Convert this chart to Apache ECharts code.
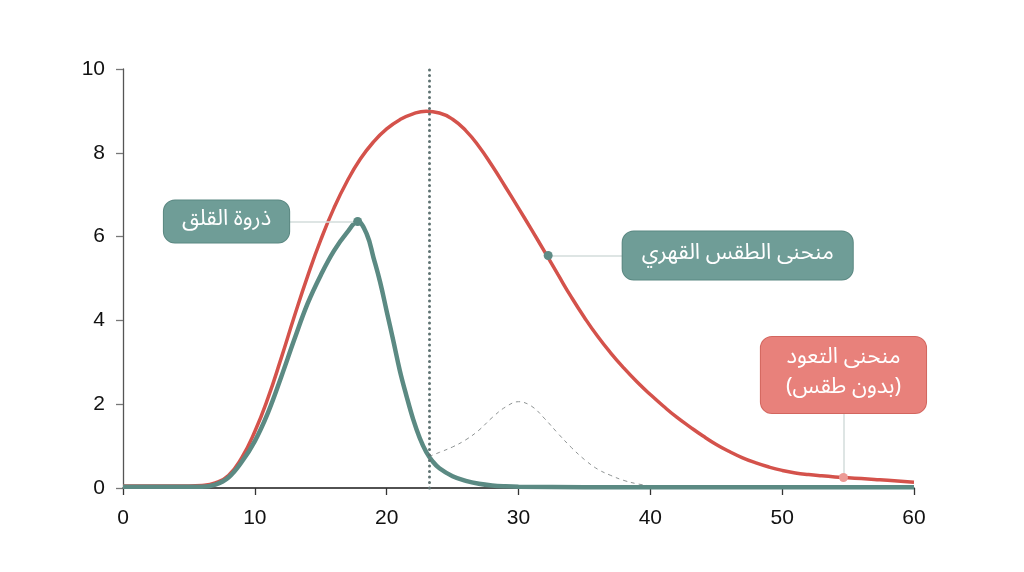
<!DOCTYPE html>
<html>
<head>
<meta charset="utf-8">
<script src="https://cdn.jsdelivr.net/npm/echarts@6/dist/echarts.min.js"></script>
<style>
  html, body { margin: 0; background: #fff; }
  #chart { width: 1024px; height: 572px; }
</style>
</head>
<body>
<div id="chart"></div>
<script>
// red curve, 0..60 step 1
const redX = [0, 1, 2, 3, 4, 5, 6, 7, 8, 9, 10, 11, 12, 13, 14, 15, 16, 17, 18, 19, 20,
  21, 22, 23, 24, 25, 26, 27, 28, 29, 30, 31, 32, 33, 34, 35, 36, 37, 38, 39, 40,
  41, 42, 43, 44, 45, 46, 47, 48, 49, 50, 51, 52, 53, 54, 55, 56, 57, 58, 59, 60];
const redY = [0.05, 0.05, 0.05, 0.05, 0.05, 0.05, 0.06, 0.12, 0.3, 0.72, 1.35, 2.15, 3.1, 4.1, 5.05, 5.92, 6.68, 7.32, 7.85, 8.26, 8.57,
  8.79, 8.93, 8.99, 8.95, 8.8, 8.53, 8.15, 7.69, 7.19, 6.68, 6.16, 5.63, 5.09, 4.56, 4.07, 3.62, 3.22, 2.86, 2.53, 2.23,
  1.95, 1.69, 1.46, 1.24, 1.04, 0.87, 0.72, 0.6, 0.5, 0.42, 0.36, 0.32, 0.29, 0.265, 0.245, 0.225, 0.205, 0.185, 0.16, 0.14];

// teal curve
const tealX = [0, 2, 4, 6, 7, 8, 9, 10, 11, 12, 13, 14, 15, 16, 17, 17.8, 18.5, 19, 19.5, 20, 20.5,
  21, 21.5, 22, 22.5, 23, 23.5, 24, 25, 26, 27, 28, 29, 30, 35, 40, 45, 50, 55, 60];
const tealY = [0.03, 0.03, 0.03, 0.03, 0.08, 0.25, 0.62, 1.12, 1.8, 2.65, 3.55, 4.4, 5.08, 5.66, 6.1, 6.36, 6.05, 5.5, 4.92, 4.22, 3.52,
  2.8, 2.2, 1.65, 1.2, 0.86, 0.63, 0.47, 0.28, 0.17, 0.1, 0.06, 0.04, 0.03, 0.02, 0.02, 0.02, 0.02, 0.02, 0.02];

// dashed bump after the ritual
const bumpX = [23.2, 24, 25, 26, 27, 28, 29, 30, 31, 32, 33, 34, 35, 36, 37, 38, 39, 40];
const bumpY = [0.75, 0.85, 0.98, 1.15, 1.38, 1.68, 1.93, 2.06, 1.95, 1.65, 1.3, 0.97, 0.68, 0.45, 0.3, 0.18, 0.1, 0.05];

const ritualAt = 23.2;

const noteText = ['ذروة القلق', 'منحنى الطقس القهري', 'منحنى التعود\n(بدون طقس)'];
const noteX = [17.8, 32.25, 54.65];
const noteY = [6.36, 5.55, 0.25];
// where each connector meets its box
const linkX = [12.6, 37.85, 54.65];
const linkY = [6.36, 5.55, 1.77];

const xTicks = [0, 10, 20, 30, 40, 50, 60];
const yTicks = [0, 2, 4, 6, 8, 10];

const RED = '#d4524b';
const TEAL = '#5b8a83';
const arabic = "'Noto Sans Arabic', 'DejaVu Sans', sans-serif";
const latin = "'Liberation Sans', Arial, sans-serif";

const pairs = (xs, ys) => xs.map((x, i) => [x, ys[i]]);

const noteStyles = [
  { dot: TEAL, bg: '#6f9d97', border: '#5b8882', position: 'left', distance: 64, padding: [6, 18] },
  { dot: '#5f8c86', bg: '#6f9d97', border: '#5b8882', position: 'right', distance: 70, padding: [9, 19] },
  { dot: '#ec9a95', bg: '#e8817b', border: '#d3665f', position: 'top', distance: 60, padding: [8, 25] },
];

const chart = echarts.init(document.getElementById('chart'), null, { renderer: 'canvas' });

chart.setOption({
  animation: false,
  backgroundColor: '#fff',
  grid: { left: 123, right: 110, top: 69, bottom: 84 },
  xAxis: {
    type: 'value',
    min: xTicks[0],
    max: xTicks[xTicks.length - 1],
    interval: 10,
    axisLine: { onZero: false, lineStyle: { color: '#1a1a1a', width: 1.5 } },
    axisTick: { length: 7, lineStyle: { color: '#333', width: 1.3 } },
    axisLabel: { color: '#111', fontSize: 21, margin: 20, fontFamily: latin },
    splitLine: { show: false },
  },
  yAxis: {
    type: 'value',
    min: yTicks[0],
    max: yTicks[yTicks.length - 1],
    interval: 2,
    axisLine: { show: true, lineStyle: { color: '#555', width: 1.3 } },
    axisTick: { show: true, length: 7, lineStyle: { color: '#777', width: 1.3 } },
    axisLabel: { color: '#111', fontSize: 21, margin: 18, fontFamily: latin },
    splitLine: { show: false },
  },
  series: [
    {
      type: 'line',
      data: pairs(bumpX, bumpY),
      smooth: 0.4,
      showSymbol: false,
      lineStyle: { color: '#8f9494', width: 1, type: [4, 4] },
      z: 1,
    },
    {
      type: 'line',
      data: pairs(redX, redY),
      smooth: 0.5,
      showSymbol: false,
      lineStyle: { color: RED, width: 3.5 },
      z: 3,
      markLine: {
        silent: true,
        symbol: 'none',
        label: { show: false },
        lineStyle: { color: '#5e7271', type: [0.1, 5.4], width: 3, cap: 'round' },
        data: [{ xAxis: ritualAt }],
      },
    },
    {
      type: 'line',
      data: pairs(tealX, tealY),
      smooth: 0.4,
      showSymbol: false,
      lineStyle: { color: TEAL, width: 4.5 },
      z: 4,
    },
    {
      type: 'scatter',
      z: 6,
      symbolSize: 9,
      markLine: {
        silent: true,
        symbol: 'none',
        label: { show: false },
        lineStyle: { color: '#d3dcdb', type: 'solid', width: 1.5 },
        data: noteX.map((x, i) => [{ coord: [x, noteY[i]] }, { coord: [linkX[i], linkY[i]] }]),
      },
      data: noteX.map((x, i) => ({
        value: [x, noteY[i]],
        itemStyle: { color: noteStyles[i].dot, opacity: 1 },
        label: {
          show: true,
          formatter: noteText[i],
          position: noteStyles[i].position,
          distance: noteStyles[i].distance,
          color: '#fff',
          fontSize: 22,
          lineHeight: 30,
          fontFamily: arabic,
          backgroundColor: noteStyles[i].bg,
          borderColor: noteStyles[i].border,
          borderWidth: 1,
          borderRadius: 11,
          padding: noteStyles[i].padding,
        },
      })),
    },
  ],
});
</script>
</body>
</html>
